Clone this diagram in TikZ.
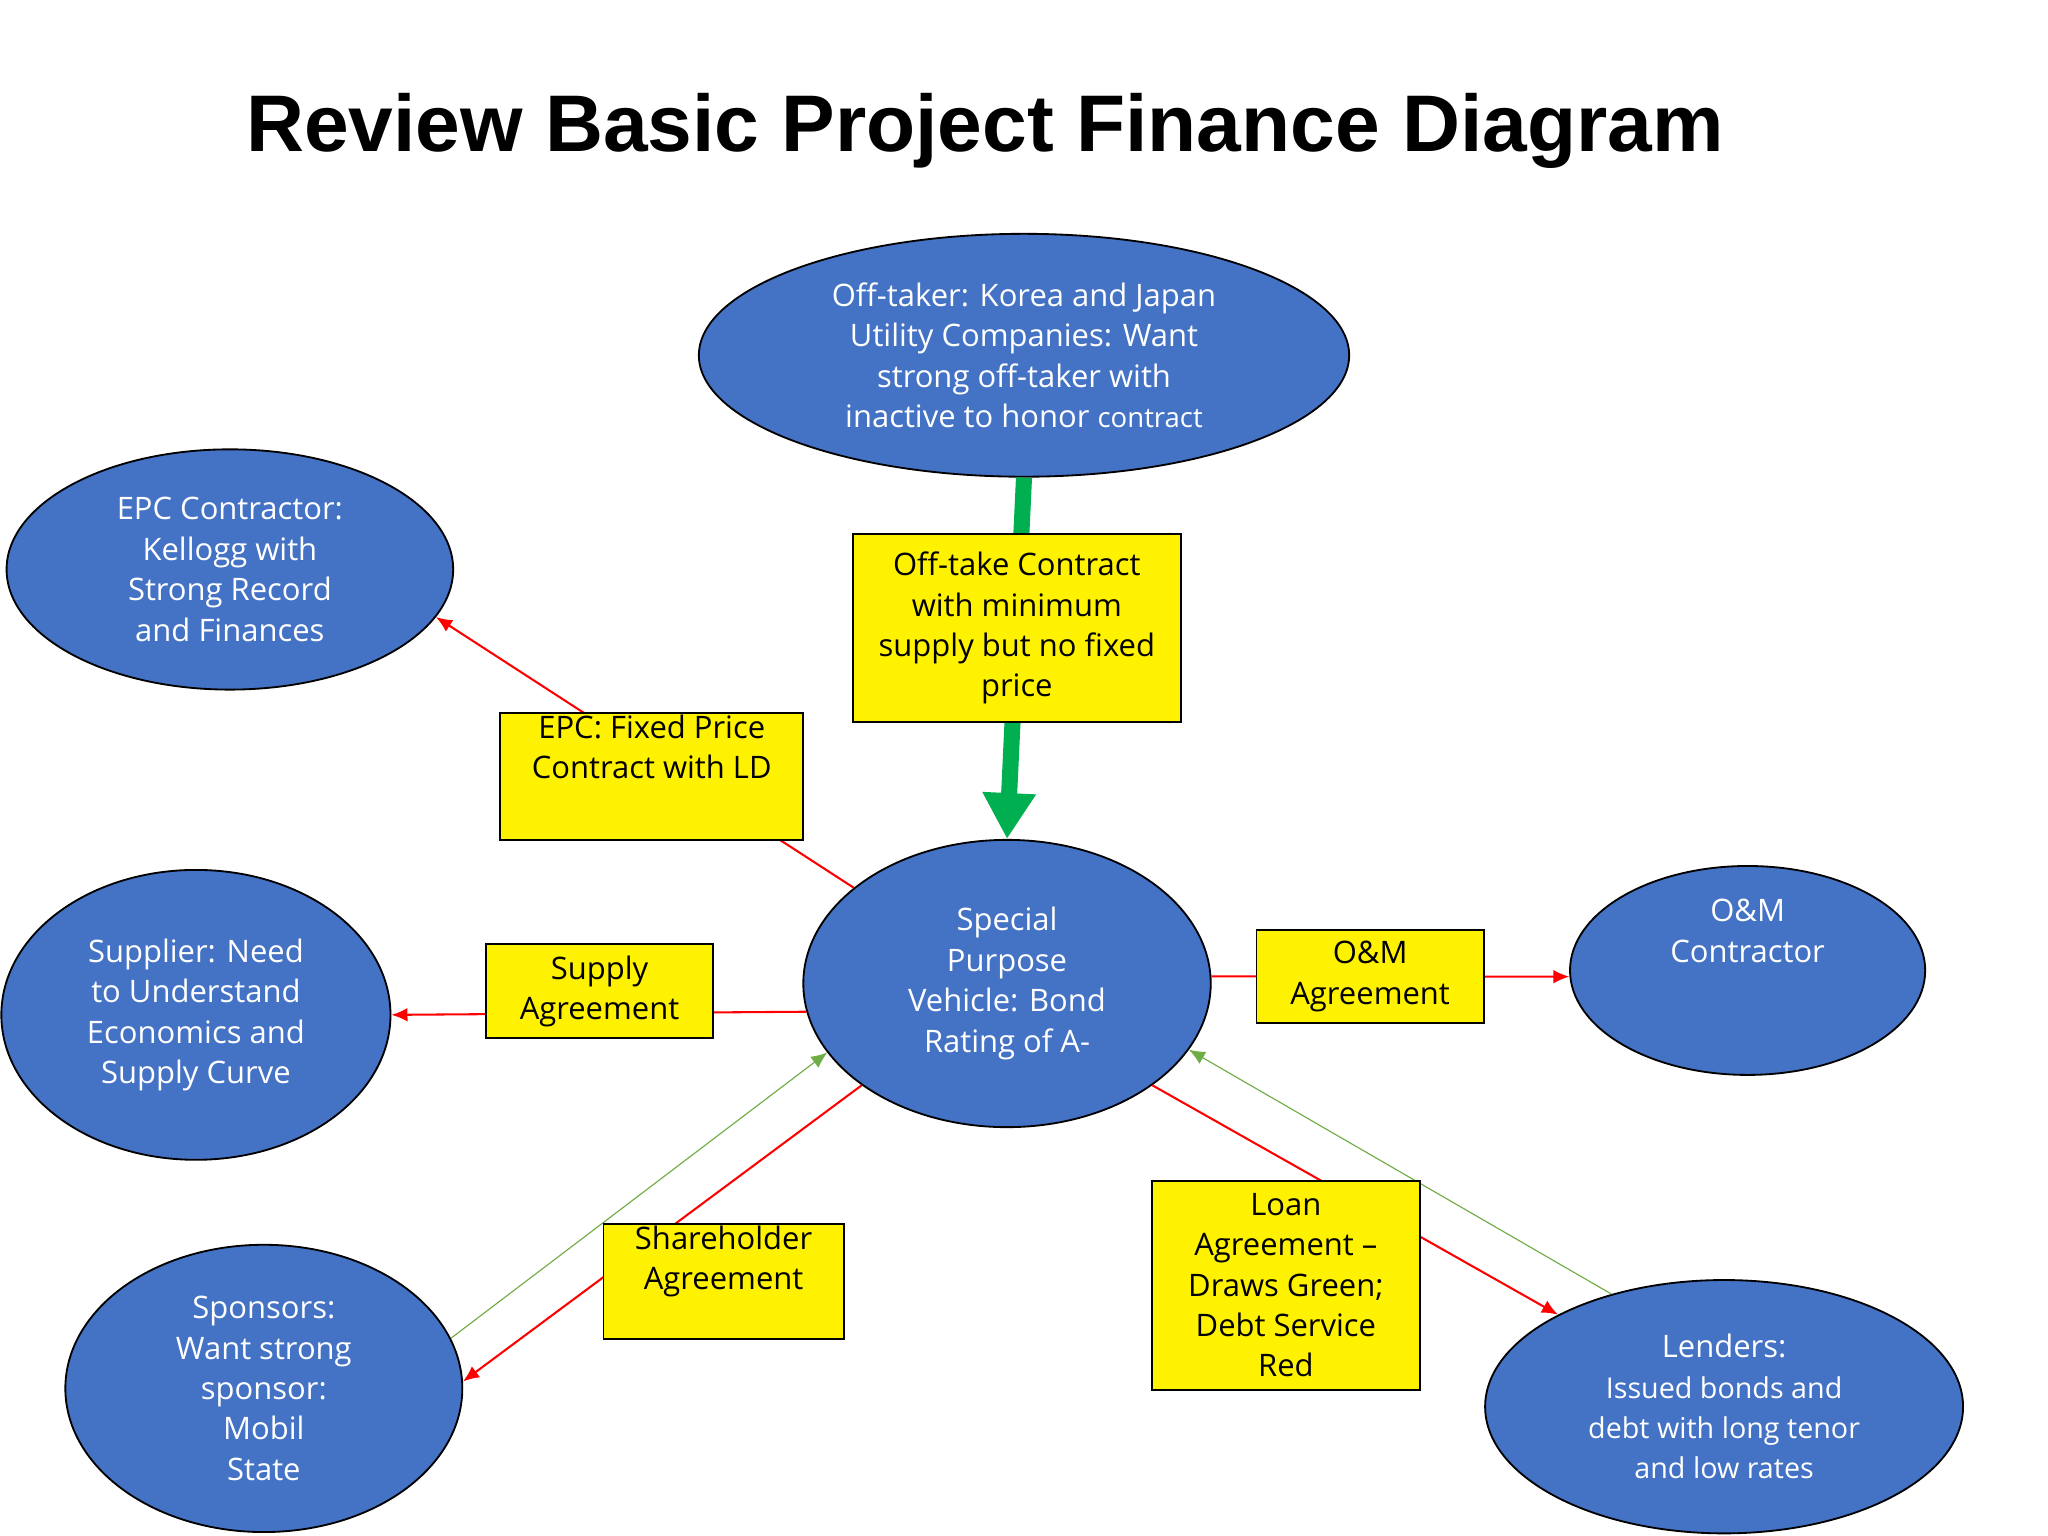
\documentclass[tikz,border=0pt]{standalone}
\usepackage{fontspec}
\setmainfont{Open Sans}
\newfontfamily\titlefont{Liberation Sans}
\usetikzlibrary{shapes.geometric,arrows.meta}
\definecolor{eblue}{RGB}{68,114,196}
\definecolor{ygreen}{RGB}{0,176,80}
\definecolor{lgreen}{RGB}{112,173,71}
\begin{document}
\begin{tikzpicture}[x=0.02cm,y=-0.02cm,
  ell/.style={ellipse,draw=black,line width=0.8pt,fill=eblue,text=white,inner sep=0pt,align=center,font=\fontsize{13.5}{17.6}\selectfont},
  box/.style={rectangle,draw=black,line width=0.8pt,fill=yellow,inner sep=0pt,align=center,font=\fontsize{13.5}{17.6}\selectfont},
  red/.style={draw=red,line width=0.9pt,-{Latex[length=7pt,width=6pt]}},
  thin/.style={draw=lgreen,line width=0.5pt,-{Latex[length=7pt,width=6pt]}}]
\useasboundingbox (0,0) rectangle (1568,1176);
\fill[white] (0,0) rectangle (1568,1176);
\node[font=\titlefont\bfseries\fontsize{35}{40}\selectfont] (title) at (754,100) {Review Basic Project Finance Diagram};
\node[ell,minimum width=498\pgflinewidth*0+9.96cm,minimum height=3.72cm] (off) at (784,272) {Off-taker: Korea and Japan\\Utility Companies: Want\\strong off-taker with\\inactive to honor {\fontsize{12}{17.6}\selectfont contract}};
\node[ell,minimum width=6.84cm,minimum height=3.68cm] (epc) at (176,436) {EPC Contractor:\\Kellogg with\\Strong Record\\and Finances};
\node[ell,minimum width=5.96cm,minimum height=4.44cm] (sup) at (150,777) {Supplier: Need\\to Understand\\Economics and\\Supply Curve};
\node[ell,minimum width=6.24cm,minimum height=4.4cm] (spv) at (771,753) {Special\\Purpose\\Vehicle: Bond\\Rating of A-};
\node[ell,minimum width=5.44cm,minimum height=3.2cm] (om) at (1338,743) {O\&M\\Contractor\\[0.6cm]};
\node[ell,minimum width=6.08cm,minimum height=4.4cm] (spo) at (202,1063) {Sponsors:\\Want strong\\sponsor:\\Mobil\\State};
\node[ell,minimum width=7.32cm,minimum height=3.88cm] (len) at (1320,1077) {Lenders:\\{\fontsize{12.5}{17.6}\selectfont Issued bonds and}\\{\fontsize{12.5}{17.6}\selectfont debt with long tenor}\\{\fontsize{12.5}{17.6}\selectfont and low rates}};
% connectors
\draw[ygreen,line width=7pt,-{Triangle[length=20pt,width=22pt]}] (off.south) -- (spv.north);
\draw[red] (spv.148.6) -- (epc.-13.9);
\draw[red] (spv.188) -- (sup.0);
\draw[red] (spv.2) -- (om.182);
\draw[red] (spv.215.4) -- (spo.2);
\draw[red] (spv.-35.4) -- (len.151.7);
\draw[thin] (spo.15) -- (spv.201.7);
\draw[thin] (len.135) -- (spv.-20);
% boxes
\node[box,minimum width=5.02cm,minimum height=2.88cm] (bo) at (778.5,481) {Off-take Contract\\with minimum\\supply but no fixed\\price};
\node[box,minimum width=4.64cm,minimum height=1.94cm] (be) at (499,594.5) {EPC: Fixed Price\\Contract with LD\\[0.3cm]};
\node[box,minimum width=3.48cm,minimum height=1.44cm] (bs) at (459,759) {Supply\\Agreement};
\node[box,minimum width=3.48cm,minimum height=1.42cm] (bm) at (1049,747.5) {O\&M\\Agreement};
\node[box,minimum width=3.68cm,minimum height=1.76cm] (bh) at (554,981) {Shareholder\\Agreement\\[0.1cm]};
\node[box,minimum width=4.1cm,minimum height=3.2cm] (bl) at (984.5,984) {Loan\\Agreement --\\Draws Green;\\Debt Service\\Red};
\end{tikzpicture}
\end{document}
